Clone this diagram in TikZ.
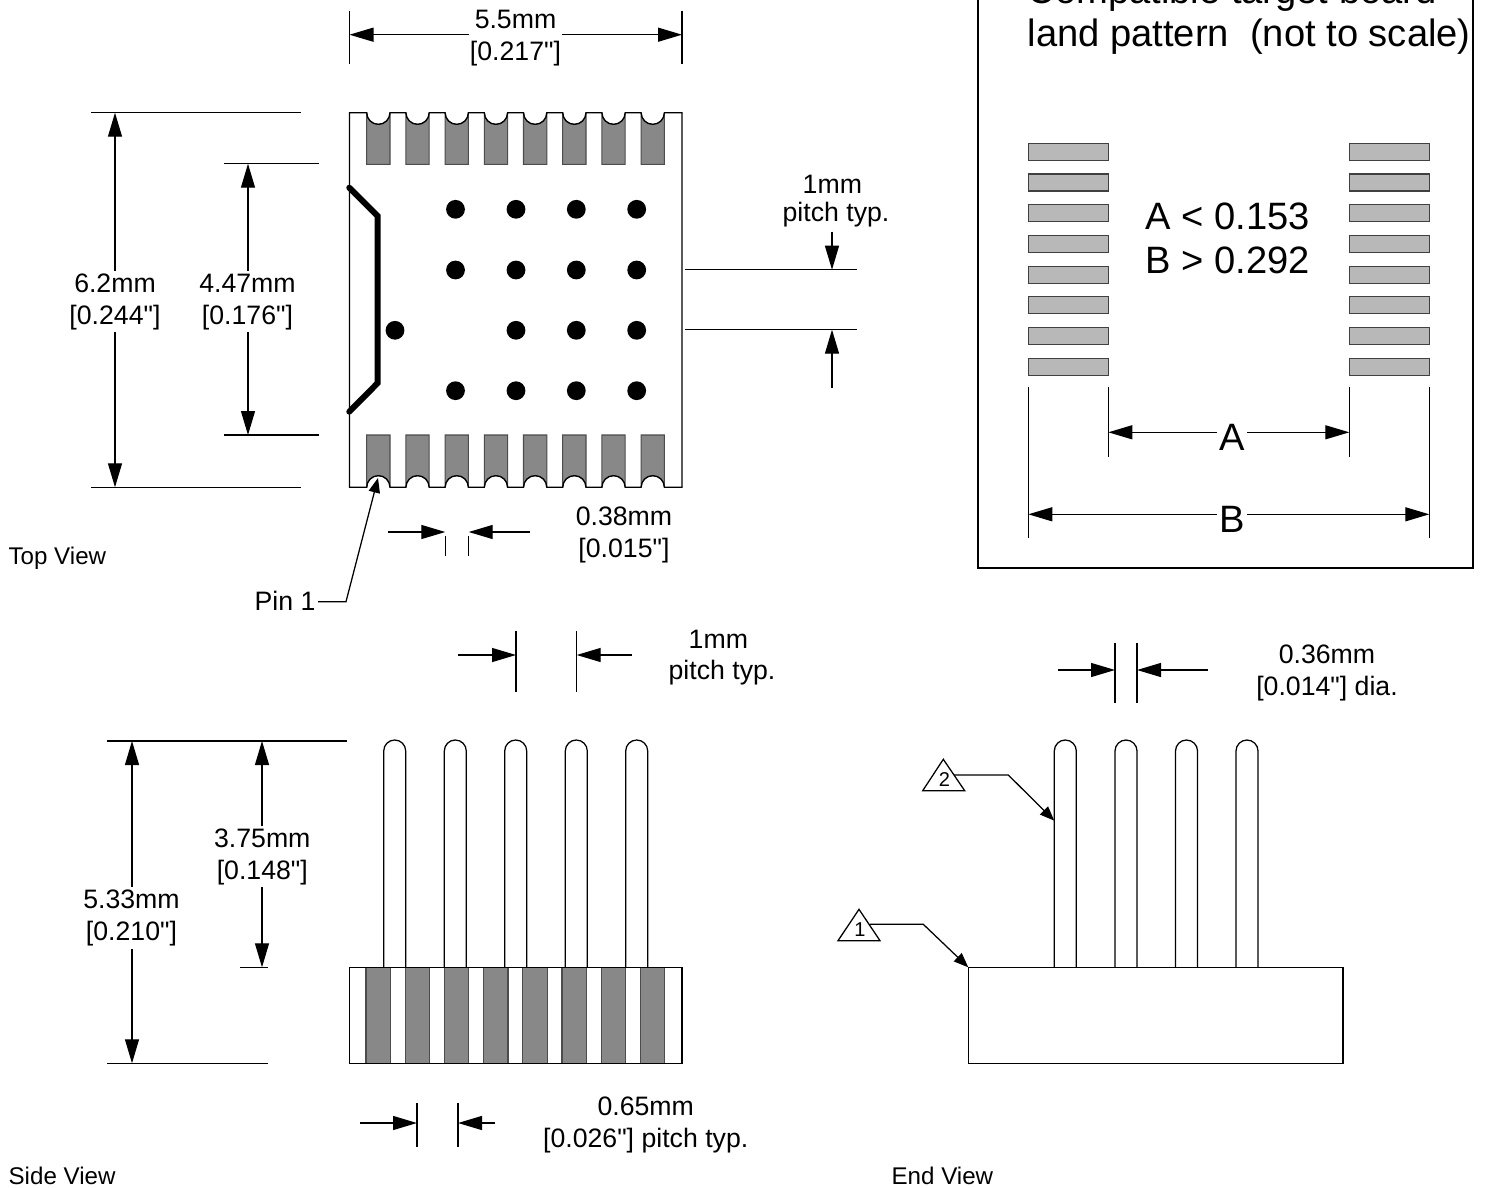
\documentclass[tikz,border=0pt]{standalone}
\usepackage{fontspec}
\newfontfamily\partfont{Liberation Sans}
\usepackage{tikz}
\usetikzlibrary{arrows.meta, positioning, calc}
\definecolor{padGray}{RGB}{136, 136, 136}
\definecolor{landGray}{RGB}{184, 184, 184}

\begin{document}
\begin{tikzpicture}[
            x=0.75pt, y=-0.75pt,
            line width=0.95pt,
            >={Triangle[length=18pt, width=10.5pt]},
            % Styles
            dim/.style={
                font=\partfont\fontsize{20}{24}\selectfont, align=center, fill=white, inner xsep=1pt, inner ysep=2pt
            },
            plain/.style={
                font=\partfont\fontsize{20}{24}\selectfont, align=center, inner sep=0pt
            },
            view/.style={
                font=\partfont\fontsize{18.1}{22}\selectfont, anchor=base west, inner sep=0pt
            },
            large/.style={
                font=\partfont\fontsize{28.6}{33}\selectfont, align=center, inner sep=0pt
            },
            largedim/.style={
                large, fill=white, inner xsep=2pt, inner ysep=0pt
            },
            marktext/.style={
                font=\partfont\fontsize{15}{18}\selectfont, inner sep=0pt
            },
            leader/.style={
                -{Triangle[length=11pt, width=8.5pt]}
            },
            pad/.style={
                fill=padGray, draw=black!70, line width=0.8pt
            },
            land/.style={
                fill=landGray, draw=black!75, line width=0.8pt
            }
        ]

            \useasboundingbox (0,0) rectangle (1485,1188);
            \clip (0,0) rectangle (1485,1188);

            % --- Top View ---

            % Pads with their scallops
            \foreach \i in {0,...,7} {
                \filldraw[pad] ({366.7+39.2*\i},164.3) -- ({366.7+39.2*\i},112.7)
                    arc[start angle=180, end angle=0, radius=11.65] -- ({390+39.2*\i},164.3) -- cycle;
                \filldraw[pad] ({366.7+39.2*\i},435) -- ({366.7+39.2*\i},487.3)
                    arc[start angle=180, end angle=360, radius=11.65] -- ({390+39.2*\i},435) -- cycle;
            }

            % Body outline
            \draw (349.5,112.7)
                foreach \i in {0,...,7} { -- ({366.7+39.2*\i},112.7) arc[start angle=180, end angle=0, radius=11.65] }
                -- (682,112.7) -- (682,487.3)
                foreach \i in {7,...,0} { -- ({390+39.2*\i},487.3) arc[start angle=0, end angle=-180, radius=11.65] }
                -- (349.5,487.3) -- cycle;

            % Pin 1 bar
            \draw[line width=4.5pt, line cap=round] (349.3,187.7) -- (377.7,216) -- (377.7,383) -- (349.3,411.7);

            % Balls
            \foreach \x in {455.5,516,576.3,636.7} {
                \foreach \y in {209.3,270,390.7} {
                    \fill (\x,\y) circle[radius=9.4];
                }
            }
            \foreach \x in {395,516,576.3,636.7} {
                \fill (\x,330.3) circle[radius=9.4];
            }

            % Width
            \draw (349.5,10.7) -- (349.5,64.3);
            \draw (682,10.7) -- (682,64.3);
            \draw[<->] (349.5,34.7) -- (682,34.7);
            \node[dim] (width) at (515.5,38) {5.5mm\\{[0.217"]}};

            % Height
            \draw (91,112.7) -- (301,112.7);
            \draw (91,487.3) -- (301,487.3);
            \draw[<->] (115,112.7) -- (115,487.3);
            \node[dim] (height) at (115,301.7) {6.2mm\\{[0.244"]}};

            % Pad span
            \draw (224,163.7) -- (319,163.7);
            \draw (224,435) -- (319,435);
            \draw[<->] (248,163.7) -- (248,435);
            \node[dim] (span) at (247.5,301.7) {4.47mm\\{[0.176"]}};

            % Ball pitch
            \draw (685,269.7) -- (857,269.7);
            \draw (685,329.7) -- (857,329.7);
            \draw[->] (832,231.7) -- (832,269.7);
            \draw[->] (832,388) -- (832,329.7);
            \node[plain] (pitch) at (836,201) {1mm\hspace*{5.5pt}\\[-3.2pt]pitch typ.};

            % Pad width
            \draw (445.3,536) -- (445.3,556);
            \draw (468.7,536) -- (468.7,556);
            \draw[->] (387.7,532) -- (445.3,532);
            \draw[->] (530,532) -- (468.7,532);
            \node[plain] (padwidth) at (624,535.4) {0.38mm\\{[0.015"]}};

            % Pin 1 callout
            \node[plain, anchor=base west] (pin) at (254,610) {Pin 1};
            \coordinate (pintip) at (378,478);
            \draw[leader] (pin.east |- 0,601.7) ++(2,0) -- (346,601.7) -- (pintip);

            \node[view] (topview) at (8,564) {Top View};

            % --- Land Pattern ---

            \draw (978,-5) -- (978,568) -- (1473,568) -- (1473,-5);
            \node[large, anchor=base west] (title) at (1027,47) {land pattern\ \ (not to scale)};
            \node[large, anchor=base west] (titletop) at (1027,3.5) {Compatible target board};

            \foreach \i in {0,...,7} {
                \filldraw[land] (1028.3,{143.3+30.7*\i}) rectangle (1108.3,{160.3+30.7*\i});
                \filldraw[land] (1349.3,{143.3+30.7*\i}) rectangle (1429.3,{160.3+30.7*\i});
            }

            \node[large] (limits) at (1228,238) {A < 0.153\\B > 0.292};

            \draw (1108.3,386.7) -- (1108.3,456.7);
            \draw (1349.3,386.7) -- (1349.3,456.7);
            \draw[<->] (1108.3,432.3) -- (1349.3,432.3);
            \node[largedim] (dima) at (1232,437) {A};

            \draw (1028.3,386.7) -- (1028.3,538.3);
            \draw (1429.3,386.7) -- (1429.3,538.3);
            \draw[<->] (1028.3,514.3) -- (1429.3,514.3);
            \node[largedim] (dimb) at (1232,519) {B};

            % --- Side View ---

            % Pins
            \foreach \x in {383.7,444.3,504.7,565.3,625.7} {
                \draw (\x,967.3) -- (\x,751) arc[start angle=180, end angle=360, radius=11] -- ({\x+22},967.3);
            }

            % Body
            \foreach \i in {0,...,7} {
                \filldraw[pad] ({366+39.2*\i},967.3) rectangle ({390.4+39.2*\i},1063.3);
            }
            \draw (349.3,967.3) rectangle (682,1063.3);

            % Overall height
            \draw (107,741) -- (347,741);
            \draw (107,1063.3) -- (268,1063.3);
            \draw[<->] (132,741) -- (132,1063.3);
            \node[dim] (total) at (131.5,918) {5.33mm\\{[0.210"]}};

            % Pin height
            \draw (240,967.3) -- (268,967.3);
            \draw[<->] (262,741) -- (262,967.3);
            \node[dim] (pinheight) at (262.3,856.7) {3.75mm\\{[0.148"]}};

            % Pin pitch
            \draw (516,631) -- (516,692);
            \draw (576.7,631) -- (576.7,692);
            \draw[->] (458,655) -- (516,655);
            \draw[->] (632,655) -- (576.7,655);
            \node[plain] (sidepitch) at (722,657.4) {1mm\hspace*{5.5pt}\\[-1pt]pitch typ.};

            % Pad pitch
            \draw (417,1103) -- (417,1147);
            \draw (458,1103) -- (458,1147);
            \draw[->] (360,1123) -- (417,1123);
            \draw[->] (495,1123) -- (458,1123);
            \node[plain] (padpitch) at (645.7,1125.4) {0.65mm\\{[0.026"]} pitch typ.};

            \node[view] (sideview) at (8,1184.5) {Side View};

            % --- End View ---

            \foreach \x in {1054.3,1115,1175.5,1236} {
                \draw (\x,967.3) -- (\x,751) arc[start angle=180, end angle=360, radius=11] -- ({\x+22},967.3);
            }
            \draw (968.3,967.3) rectangle (1343,1063.3);

            % Pin diameter
            \draw (1115,643) -- (1115,703);
            \draw (1137,643) -- (1137,703);
            \draw[->] (1058,670) -- (1115,670);
            \draw[->] (1208,670) -- (1137,670);
            \node[plain] (diameter) at (1327,673.4) {0.36mm\\{[0.014"]} dia.};

            % Callouts
            \draw (943.3,759.3) -- (922.7,790.7) -- (964.7,790.7) -- cycle;
            \node[marktext] (mark2) at (944.3,780) {2};
            \coordinate (tip2) at (1054.3,820.7);
            \draw[leader] (954,775) -- (1008.3,775) -- (tip2);

            \draw (859,909.3) -- (838,940.7) -- (880,940.7) -- cycle;
            \node[marktext] (mark1) at (860,930) {1};
            \coordinate (tip1) at (968.3,967.3);
            \draw[leader] (870,924.3) -- (923.3,924.3) -- (tip1);

            \node[view] (endview) at (891,1184.5) {End View};

        \end{tikzpicture}
\end{document}
